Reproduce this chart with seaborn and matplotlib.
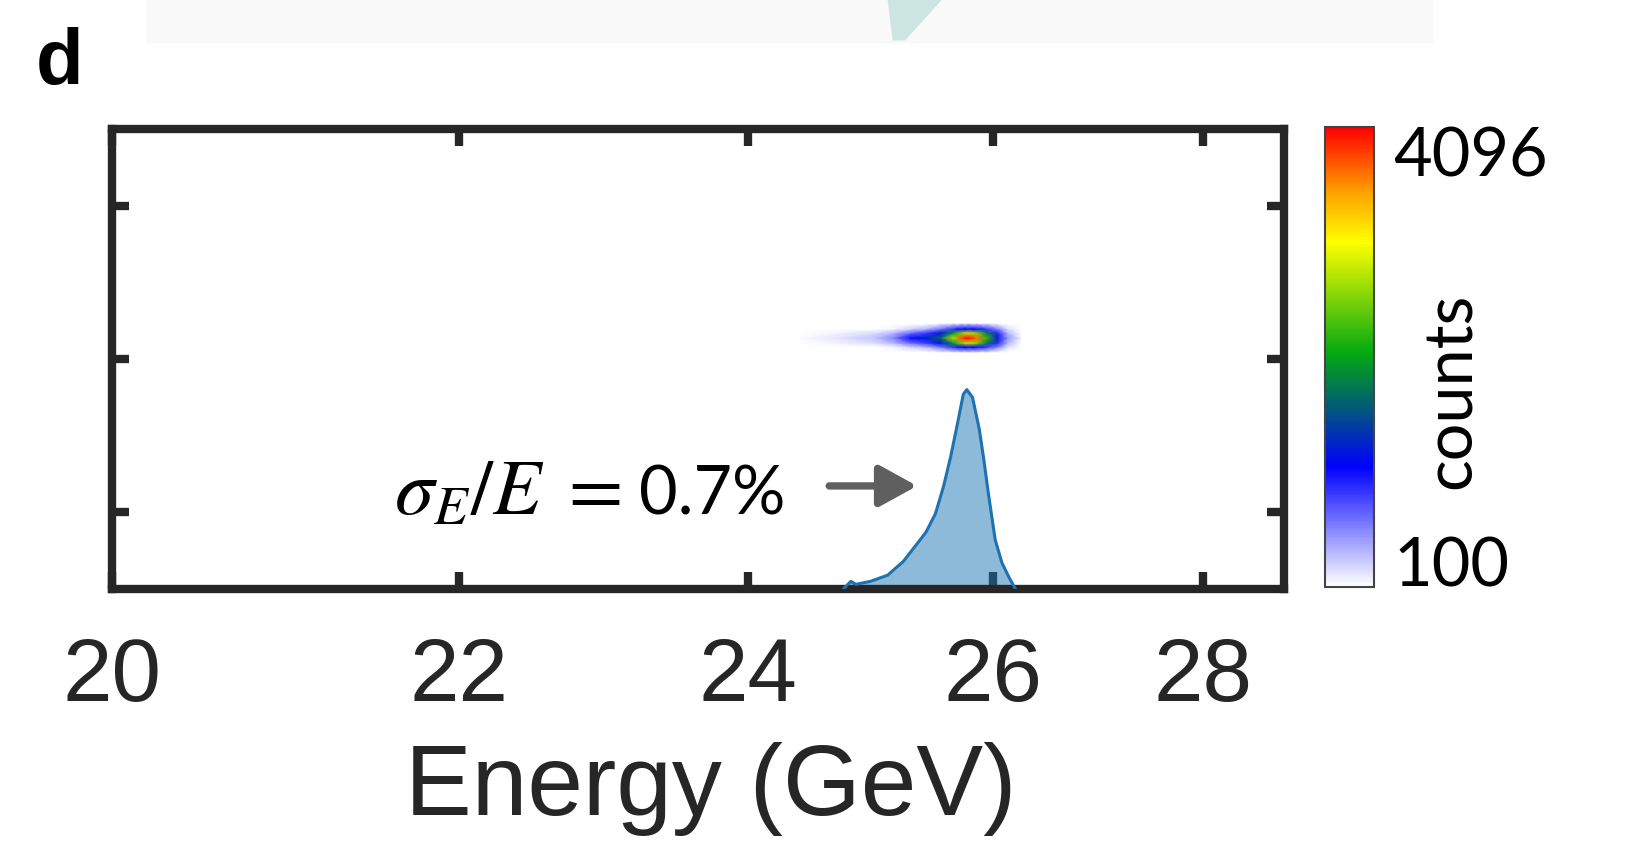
import numpy as np
import matplotlib
matplotlib.use("Agg")
import matplotlib.pyplot as plt
import seaborn as sns
from matplotlib.colors import LinearSegmentedColormap, Normalize
from matplotlib.patches import Rectangle, Polygon

# energy spectrum (projection of the screen image), arb. units
spec_energy = [24.74, 24.80, 24.84, 24.96, 25.10, 25.23, 25.35, 25.42, 25.50,
               25.57, 25.63, 25.69, 25.74, 25.77, 25.82, 25.88, 25.92, 25.96,
               26.02, 26.08, 26.14, 26.20]
spec_height = [0.00, 0.05, 0.03, 0.05, 0.09, 0.18, 0.30, 0.37, 0.49,
               0.67, 0.86, 1.08, 1.27, 1.30, 1.25, 1.04, 0.84, 0.62,
               0.32, 0.17, 0.08, 0.00]

# beam spot on the screen: counts on a coarse grid
spot_energy = [24.40, 24.70, 25.00, 25.15, 25.29, 25.42, 25.54, 25.65,
               25.72, 25.78, 25.86, 25.95, 26.04, 26.13, 26.25]
spot_y = [1.546, 1.578, 1.604, 1.637, 1.670, 1.696, 1.728]
spot_counts = [
    [0, 0, 0, 0, 60, 100, 180, 260, 300, 320, 300, 250, 160, 60, 0],
    [0, 0, 80, 150, 300, 420, 650, 950, 1150, 1200, 1100, 900, 600, 250, 0],
    [60, 150, 250, 400, 700, 900, 1250, 2000, 2600, 2900, 2600, 1800, 1000, 400, 100],
    [120, 220, 350, 600, 1100, 1300, 1700, 2800, 3800, 4096, 3700, 2300, 1300, 550, 150],
    [60, 150, 250, 400, 700, 900, 1250, 2000, 2600, 2900, 2600, 1800, 1000, 400, 100],
    [0, 0, 80, 150, 300, 420, 650, 950, 1150, 1200, 1100, 900, 600, 250, 0],
    [0, 0, 0, 0, 60, 100, 180, 260, 300, 320, 300, 250, 160, 60, 0],
]

x_ticks = [20, 22, 24, 26, 28]
y_ticks = [0.5, 1.5, 2.5]
count_min, count_max = 100, 4096
count_minor = [1331, 2561, 3792]
spread_math = r"$\sigma_E/E\;=$"
spread_value = "0.7%"

sns.set_theme(style="white")
plt.rcParams["mathtext.fontset"] = "stix"
dark = "#262626"

fig = plt.figure(figsize=(16.39, 8.65), dpi=100)

# faint leftover of the panel above
fig.patches.append(Rectangle((0.089, 0.952), 0.785, 0.048, transform=fig.transFigure,
                             color="#f9f9f9", zorder=0))
fig.patches.append(Polygon([[0.542, 1.0], [0.574, 1.0], [0.552, 0.954], [0.545, 0.954]],
                           closed=True, transform=fig.transFigure, color="#cde5e0", zorder=0))

ax = fig.add_axes([0.0683, 0.3191, 0.7151, 0.5318])
cax = fig.add_axes([0.8084, 0.3214, 0.0299, 0.5318])

# spectrometer screen: position goes like 1/E
ax.set_xscale("function", functions=(lambda e: -1.0 / e, lambda v: -1.0 / v))

cmap = LinearSegmentedColormap.from_list(
    "screen",
    [(0.0, "#ffffff"), (0.26, "#0000ff"), (0.39, "#025a78"), (0.51, "#04aa10"),
     (0.75, "#ffff00"), (0.86, "#ffa000"), (1.0, "#ff0000")])
norm = Normalize(vmin=count_min, vmax=count_max)

EE, YY = np.meshgrid(spot_energy, spot_y)
mesh = ax.pcolormesh(EE, YY, np.array(spot_counts, dtype=float), cmap=cmap, norm=norm,
                     shading="gouraud", zorder=1)

ax.fill_between(spec_energy, spec_height, 0, color="#1f77b4", alpha=0.5, lw=0, zorder=2)
sns.lineplot(x=spec_energy, y=spec_height, ax=ax, color="#1f72b0", lw=2.2,
             sort=False, zorder=3)

ax.set_xlim(20, 28.86)
ax.set_ylim(0, 3)
ax.set_xticks(x_ticks)
ax.set_xticklabels([str(t) for t in x_ticks])
ax.set_yticks(y_ticks)
ax.set_yticklabels([])
ax.tick_params(axis="both", direction="in", length=12, width=6, color=dark,
               top=True, right=True, bottom=True, left=True)
ax.tick_params(axis="x", pad=34, labelsize=64, labelcolor=dark)
for lab in ax.get_xticklabels():
    lab.set_fontfamily("Liberation Sans")
for s in ax.spines.values():
    s.set_linewidth(6)
    s.set_color(dark)
    s.set_visible(True)

ax.set_xlabel("Energy (GeV)", fontsize=72, fontfamily="Liberation Sans", color=dark)
ax.xaxis.set_label_coords(0.511, -0.491)
ax.xaxis.label.set_va("baseline")
ax.set_ylabel("")

ax.text(0.241, 0.161, spread_math, transform=ax.transAxes, ha="left", va="baseline",
        fontsize=57, color="black")
ax.text(0.575, 0.161, spread_value, transform=ax.transAxes, ha="right", va="baseline",
        fontsize=48, fontfamily="Lato", color="black")
ax.annotate("", xy=(0.687, 0.224), xytext=(0.612, 0.224), xycoords="axes fraction",
            arrowprops=dict(arrowstyle="-|>,head_length=1.0,head_width=0.55",
                            mutation_scale=23, lw=5.3, color="#5f5f5f",
                            shrinkA=0, shrinkB=0))

cb = fig.colorbar(mesh, cax=cax)
cb.outline.set_edgecolor("#444444")
cb.outline.set_linewidth(1.5)
cax.set_yticks([count_min, count_max])
cax.set_yticklabels([str(count_min), str(count_max)])
cax.set_yticks(count_minor, minor=True)
cax.tick_params(axis="y", which="major", length=0, pad=14, labelsize=48, labelcolor="black")
cax.tick_params(axis="y", which="minor", direction="in", length=5, width=1, color="#333333")
labs = cax.get_yticklabels()
labs[0].set_va("baseline")
labs[1].set_va("top")
for lab in labs:
    lab.set_fontfamily("Lato")
cax.text(2.59, 0.426, "counts", transform=cax.transAxes, rotation=90,
         ha="center", va="center", fontsize=48, fontfamily="Lato", color="black")

fig.text(0.022, 0.903, "d", fontsize=56, fontweight="bold",
         fontfamily="Liberation Sans", color="black", va="baseline")

fig.savefig("out.png", dpi=100)
